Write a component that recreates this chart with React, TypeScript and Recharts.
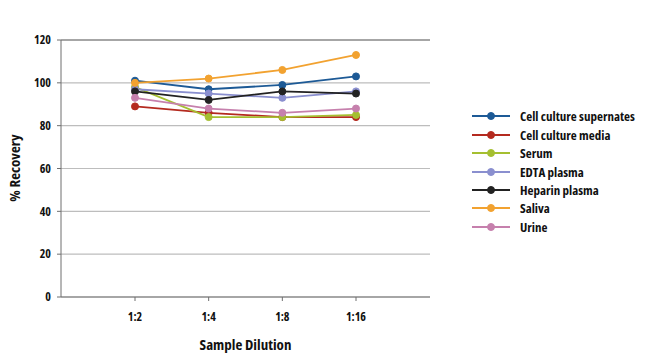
import React from 'react';
import { LineChart, Line, XAxis, YAxis, CartesianGrid, ReferenceLine } from 'recharts';

const dilutions = ['1:2', '1:4', '1:8', '1:16'];

const supernates = [101, 97, 99, 103];
const media = [89, 86, 84, 84];
const serum = [98, 84, 84, 85];
const edta = [97, 95, 93, 96];
const heparin = [96, 92, 96, 95];
const saliva = [100, 102, 106, 113];
const urine = [93, 88, 86, 88];

const yTicks = [0, 20, 40, 60, 80, 100, 120];

const series = [
  { key: 'supernates', name: 'Cell culture supernates', color: '#1d5a96', values: supernates },
  { key: 'media', name: 'Cell culture media', color: '#b42a1f', values: media },
  { key: 'serum', name: 'Serum', color: '#a5bf30', values: serum },
  { key: 'edta', name: 'EDTA plasma', color: '#8a8fcf', values: edta },
  { key: 'heparin', name: 'Heparin plasma', color: '#222222', values: heparin },
  { key: 'saliva', name: 'Saliva', color: '#f2a230', values: saliva },
  { key: 'urine', name: 'Urine', color: '#c680ad', values: urine },
];

const FONT = '"Open Sans", "Liberation Sans", sans-serif';
const txt = { fontFamily: FONT, fontWeight: 700, fontStretch: '75%' } as const;

// build rows for recharts
const data = dilutions.map((d, i) => {
  const row: any = { dilution: d };
  series.forEach((s) => {
    row[s.key] = s.values[i];
  });
  return row;
});

const LegendBox = () => (
  <div style={{ position: 'absolute', left: 470, top: 107, fontSize: 13, color: '#111', whiteSpace: 'nowrap', ...txt }}>
    {series.map((s) => (
      <div key={s.key} style={{ display: 'flex', alignItems: 'center', height: 18.45 }}>
        <svg width={42} height={10} style={{ marginRight: 8 }}>
          <line x1={2} y1={5} x2={40} y2={5} stroke={s.color} strokeWidth={1.8} />
          <circle cx={21} cy={5} r={3.5} fill={s.color} stroke={s.color} />
        </svg>
        <span>{s.name}</span>
      </div>
    ))}
  </div>
);

const App = () => {
  return (
    <div style={{ position: 'absolute', left: 0, top: 0, width: 650, height: 358, background: '#fff' }}>
      <LineChart width={650} height={358} data={data} margin={{ top: 40, right: 220, bottom: 0, left: 0 }}>
        <CartesianGrid vertical={false} stroke="#bdbdbd" strokeWidth={1.2} />
        <XAxis
          dataKey="dilution"
          padding={{ left: 74, right: 74 }}
          height={61}
          stroke="#6f6f6f"
          tickSize={4}
          tickMargin={11}
          tick={{ ...txt, fontSize: 12, fill: '#111' }}
          label={{
            content: () => (
              <text x={245.5} y={350} textAnchor="middle" fontSize={15} fill="#111" style={txt}>
                Sample Dilution
              </text>
            ),
          }}
        />
        <YAxis
          domain={[0, 120]}
          ticks={yTicks}
          width={61}
          stroke="#6f6f6f"
          tickSize={4}
          tickMargin={6}
          tick={{ ...txt, fontSize: 12, fill: '#111' }}
          label={{
            content: () => (
              <text x={20} y={168} transform="rotate(-90, 20, 168)" textAnchor="middle" fontSize={15} fill="#111" style={txt}>
                % Recovery
              </text>
            ),
          }}
        />
        <YAxis yAxisId="right" orientation="right" domain={[0, 120]} width={0} tick={false} tickLine={false} stroke="#6f6f6f" />
        <ReferenceLine y={120} stroke="#6f6f6f" strokeWidth={1.2} />
        {series.map((s) => (
          <Line
            key={s.key}
            dataKey={s.key}
            name={s.name}
            stroke={s.color}
            strokeWidth={1.8}
            dot={{ r: 3.5, fill: s.color, stroke: s.color, strokeWidth: 1 }}
            activeDot={false}
            isAnimationActive={false}
          />
        ))}
      </LineChart>
      <LegendBox />
    </div>
  );
};

export default App;
